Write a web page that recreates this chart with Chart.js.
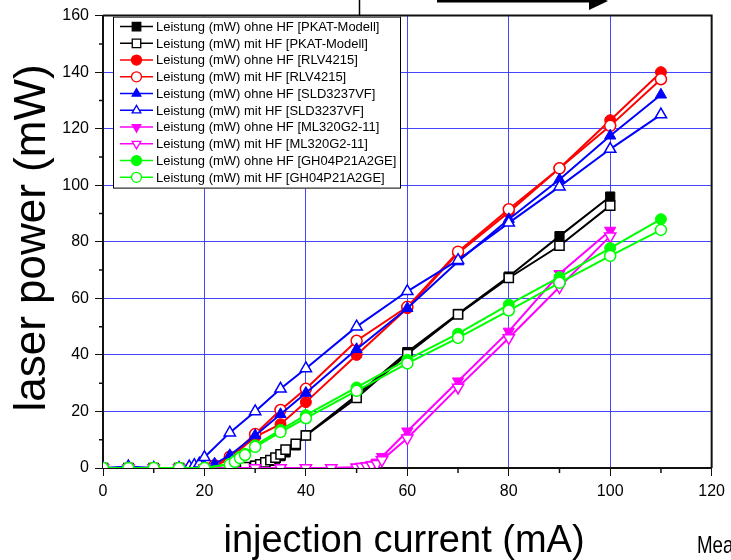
<!DOCTYPE html>
<html>
<head>
<meta charset="utf-8">
<script src="https://cdn.jsdelivr.net/npm/chart.js@4.4.0/dist/chart.umd.min.js"></script>
<style>
  html, body { margin: 0; padding: 0; background: #fff; }
</style>
</head>
<body>
<canvas id="graph" width="731" height="560"></canvas>
<script>
// injection current (mA) / laser power (mW)
const pkatX      = [0, 5, 10, 15, 20, 25, 28, 30, 31, 32, 33, 34, 35, 36, 38, 40, 50, 60, 70, 80, 90, 100];
const pkatOhne   = [0, 0, 0, 0, 0, 0, 0.3, 0.8, 1.2, 1.8, 2.5, 3.3, 4.2, 5.5, 8, 11.6, 25.7, 41, 54.5, 67.7, 82, 96];
const pkatMit    = [0, 0, 0, 0, 0, 0, 0.3, 0.8, 1.3, 2, 2.8, 3.7, 4.8, 6.5, 8.5, 11.5, 24.8, 40.3, 54.3, 67.2, 78.6, 92.8];

const rlvX       = [0, 5, 10, 15, 20, 22, 25, 30, 35, 40, 50, 60, 70, 80, 90, 100, 110];
const rlvOhne    = [0, 0, 0, 0, 0, 0.5, 3.5, 11, 15.5, 23.3, 40, 56.5, 76, 90.5, 106, 123, 140];
const rlvMit     = [0, 0, 0, 0, 0, 1, 4, 12, 20.5, 28, 45, 57, 76.5, 91.5, 106, 121, 137.5];

const sldOhneX   = [0, 5, 10, 15, 20, 22, 25, 30, 35, 40, 50, 60, 70, 80, 90, 100, 110];
const sldOhne    = [0, 0, 0, 0, 0.5, 1.5, 4.5, 11.5, 19, 26.5, 42, 56.5, 73, 88, 102, 117.5, 132];
const sldMitX    = [0, 5, 10, 15, 17, 18, 19, 20, 25, 30, 35, 40, 50, 60, 70, 80, 90, 100, 110];
const sldMit     = [0, 0.5, 0, 0, 0.5, 1, 1.5, 3.8, 12.5, 20, 28, 35.2, 50, 62.5, 73.5, 86.7, 99.5, 112.8, 125];

const mlX        = [0, 5, 10, 15, 20, 25, 30, 35, 40, 45, 50, 51, 52, 53, 54, 55, 60, 70, 80, 90, 100];
const mlOhne     = [0, 0, 0, 0, 0, 0, 0, 0, 0, 0, 0.3, 0.5, 0.8, 1.2, 2, 4, 13, 30.7, 48.3, 68.7, 84];
const mlMit      = [0, 0, 0, 0, 0, 0, 0, 0, 0, 0, 0.2, 0.4, 0.6, 1, 1.5, 2.8, 10.5, 28.5, 46, 64, 82];

const ghX        = [0, 5, 10, 15, 20, 25, 26, 27, 28, 30, 35, 40, 50, 60, 70, 80, 90, 100, 110];
const ghOhne     = [0, 0, 0, 0, 0, 1.5, 2.5, 4, 5, 8, 13.5, 18.7, 28.5, 38.3, 47.5, 57.8, 67.5, 77.8, 88];
const ghMit      = [0, 0, 0, 0, 0, 1.2, 2.2, 3.5, 4.6, 7.5, 12.7, 17.6, 27.3, 37, 46, 55.7, 65.5, 75, 84.2];

const xTicks = [0, 20, 40, 60, 80, 100, 120];
const yTicks = [0, 20, 40, 60, 80, 100, 120, 140, 160];

function pts(xs, ys) {
  return xs.map((x, i) => ({ x: x, y: ys[i] }));
}

function serie(idx, label, xs, ys, color, style, filled, rot) {
  const r = style === 'rect' ? 6.5 : (style === 'circle' ? 5.5 : 6.5);
  return {
    label: label,
    data: pts(xs, ys),
    order: 10 - idx, // later series on top, like the original
    showLine: true,
    borderColor: color,
    backgroundColor: filled ? color : '#ffffff',
    borderWidth: 2,
    pointStyle: style,
    pointRotation: rot || 0,
    pointRadius: r,
    pointBorderColor: color,
    pointBackgroundColor: filled ? color : '#ffffff',
    pointBorderWidth: filled ? 1 : 1.5,
    tension: 0
  };
}

const datasets = [
  serie(0, 'Leistung (mW) ohne HF [PKAT-Modell]', pkatX, pkatOhne, '#000000', 'rect', true),
  serie(1, 'Leistung (mW) mit HF [PKAT-Modell]', pkatX, pkatMit, '#000000', 'rect', false),
  serie(2, 'Leistung (mW) ohne HF [RLV4215]', rlvX, rlvOhne, '#ff0000', 'circle', true),
  serie(3, 'Leistung (mW) mit HF [RLV4215]', rlvX, rlvMit, '#ff0000', 'circle', false),
  serie(4, 'Leistung (mW) ohne HF [SLD3237VF]', sldOhneX, sldOhne, '#0000ff', 'triangle', true),
  serie(5, 'Leistung (mW) mit HF [SLD3237VF]', sldMitX, sldMit, '#0000ff', 'triangle', false),
  serie(6, 'Leistung (mW) ohne HF [ML320G2-11]', mlX, mlOhne, '#ff00ff', 'triangle', true, 180),
  serie(7, 'Leistung (mW) mit HF [ML320G2-11]', mlX, mlMit, '#ff00ff', 'triangle', false, 180),
  serie(8, 'Leistung (mW) ohne HF [GH04P21A2GE]', ghX, ghOhne, '#00ff00', 'circle', true),
  serie(9, 'Leistung (mW) mit HF [GH04P21A2GE]', ghX, ghMit, '#00ff00', 'circle', false)
];

const gridBlue = 'rgba(50,50,255,0.9)';

// frame, minor ticks, titles, slide leftovers, legend box
const decor = {
  id: 'decor',
  afterDraw(chart) {
    const ctx = chart.ctx;
    const a = chart.chartArea;
    const xs = chart.scales.x, ys = chart.scales.y;
    ctx.save();
    ctx.strokeStyle = '#111';
    ctx.lineWidth = 2;
    ctx.beginPath();
    ctx.moveTo(a.left, a.top);
    ctx.lineTo(a.right, a.top);
    ctx.lineTo(a.right, a.bottom);
    ctx.stroke();

    ctx.lineWidth = 1.5;
    ctx.beginPath();
    for (let v = 10; v < 160; v += 20) {
      const py = ys.getPixelForValue(v);
      ctx.moveTo(a.left - 4, py); ctx.lineTo(a.left, py);
    }
    for (let v = 10; v < 120; v += 20) {
      const px = xs.getPixelForValue(v);
      ctx.moveTo(px, a.bottom); ctx.lineTo(px, a.bottom + 5);
    }
    ctx.stroke();

    ctx.fillStyle = '#000';
    ctx.font = '38px "Liberation Sans", Arial, sans-serif';
    ctx.textAlign = 'center';
    ctx.textBaseline = 'alphabetic';
    ctx.fillText('injection current (mA)', 404, 552);

    ctx.save();
    ctx.translate(45, 238);
    ctx.rotate(-Math.PI / 2);
    ctx.font = '44px "Liberation Sans", Arial, sans-serif';
    ctx.fillText('laser power (mW)', 0, 0);
    ctx.restore();

    ctx.textAlign = 'left';
    ctx.save();
    ctx.translate(697, 553);
    ctx.scale(0.78, 1);
    ctx.font = '24px "Liberation Sans", sans-serif';
    ctx.fillText('Measured', 0, 0);
    ctx.restore();

    // arrow and line cut at the top edge
    ctx.strokeStyle = '#000';
    ctx.lineWidth = 3;
    ctx.beginPath();
    ctx.moveTo(437, 1); ctx.lineTo(595, 1);
    ctx.stroke();
    ctx.beginPath();
    ctx.moveTo(589, -8); ctx.lineTo(608, 1); ctx.lineTo(589, 10);
    ctx.closePath();
    ctx.fill();
    ctx.lineWidth = 1.5;
    ctx.beginPath();
    ctx.moveTo(359.5, 0); ctx.lineTo(359.5, a.top);
    ctx.stroke();

    // legend box
    const lx = a.left + 10, ly = a.top + 1, lw = 287, lh = 172;
    ctx.fillStyle = '#fff';
    ctx.fillRect(lx, ly, lw, lh);
    ctx.strokeStyle = '#000';
    ctx.lineWidth = 1;
    ctx.strokeRect(lx + 0.5, ly + 0.5, lw, lh - 1);
    chart.data.datasets.forEach((ds, i) => {
      const y = ly + 10 + i * 16.75;
      ctx.strokeStyle = ds.borderColor;
      ctx.lineWidth = 1.5;
      ctx.beginPath();
      ctx.moveTo(lx + 7, y); ctx.lineTo(lx + 40, y);
      ctx.stroke();
      ctx.fillStyle = ds.pointBackgroundColor;
      ctx.lineWidth = 1.3;
      Chart.helpers.drawPoint(ctx, {
        pointStyle: ds.pointStyle,
        rotation: ds.pointRotation,
        radius: ds.pointStyle === 'rect' ? 6 : 5,
        borderWidth: 1.3
      }, lx + 23.5, y);
      ctx.fillStyle = '#000';
      ctx.font = '13.6px "Liberation Sans", Arial, sans-serif';
      ctx.textAlign = 'left';
      ctx.textBaseline = 'middle';
      ctx.save();
      ctx.translate(lx + 43, y + 0.5);
      ctx.scale(0.955, 1);
      ctx.fillText(ds.label, 0, 0);
      ctx.restore();
    });
    ctx.restore();
  }
};

const graph = document.getElementById('graph').getContext('2d');

let myChart = new Chart(graph, {
  type: 'scatter',
  data: { datasets: datasets },
  options: {
    responsive: false,
    animation: false,
    layout: { padding: { top: 14, right: 15, left: 0, bottom: 0 } },
    plugins: {
      legend: { display: false },
      tooltip: { enabled: false }
    },
    scales: {
      x: {
        type: 'linear',
        min: xTicks[0],
        max: xTicks[xTicks.length - 1],
        afterFit: (s) => { s.height = 92; },
        afterBuildTicks: (s) => { s.ticks = xTicks.map(v => ({ value: v })); },
        ticks: {
          color: '#000',
          padding: 6,
          font: { family: '"Liberation Sans", Arial, sans-serif', size: 16 }
        },
        grid: {
          color: (c) => (c.tick && (c.tick.value === 0 || c.tick.value === 120)) ? 'rgba(0,0,0,0)' : gridBlue,
          tickColor: '#111',
          tickLength: 8,
          lineWidth: 1
        },
        border: { color: '#111', width: 2 }
      },
      y: {
        type: 'linear',
        min: yTicks[0],
        max: yTicks[yTicks.length - 1],
        afterFit: (s) => { s.width = 103; },
        afterBuildTicks: (s) => { s.ticks = yTicks.map(v => ({ value: v })); },
        ticks: {
          color: '#000',
          padding: 6,
          font: { family: '"Liberation Sans", Arial, sans-serif', size: 16 }
        },
        grid: {
          color: (c) => (c.tick && (c.tick.value === 0 || c.tick.value === 160)) ? 'rgba(0,0,0,0)' : gridBlue,
          tickColor: '#111',
          tickLength: 8,
          lineWidth: 1
        },
        border: { color: '#111', width: 2 }
      }
    }
  },
  plugins: [decor]
});
</script>
</body>
</html>
